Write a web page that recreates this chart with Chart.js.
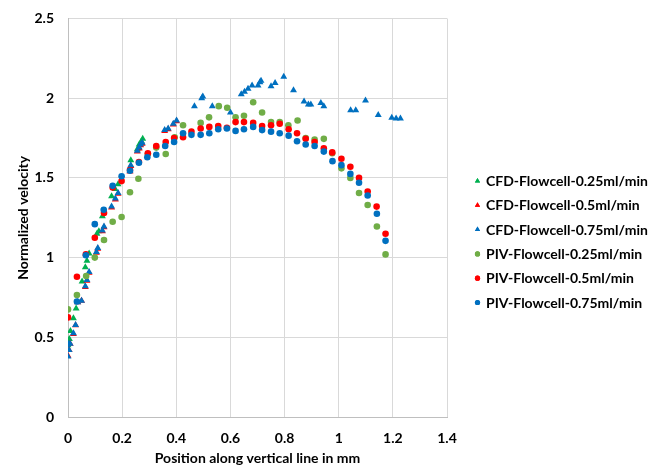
<!DOCTYPE html>
<html>
<head>
<meta charset="utf-8">
<script src="https://cdn.jsdelivr.net/npm/chart.js@4/dist/chart.umd.min.js"></script>
<style>
  body { margin: 0; background: #fff; }
  #chart { display: block; }
</style>
</head>
<body>
<canvas id="chart" width="663" height="467"></canvas>
<script>
// series as [position mm, normalized velocity]
const cfd025 = [
    [0, 0.45], [0.005, 0.49], [0.009, 0.54], [0.02, 0.62], [0.03, 0.68],
    [0.052, 0.85], [0.064, 0.94], [0.07, 0.98], [0.078, 1.025], [0.107, 1.15],
    [0.114, 1.165], [0.127, 1.26], [0.161, 1.385], [0.174, 1.43], [0.185, 1.46],
    [0.232, 1.61], [0.256, 1.68], [0.263, 1.71], [0.271, 1.73], [0.276, 1.745],
];
const cfd05 = [
    [0, 0.385], [0.004, 0.42], [0.008, 0.46], [0.02, 0.52], [0.028, 0.575],
    [0.036, 0.72], [0.05, 0.73], [0.064, 0.815], [0.07, 0.855], [0.078, 0.905],
    [0.105, 1.03], [0.11, 1.055], [0.127, 1.165], [0.133, 1.19], [0.161, 1.315],
    [0.175, 1.365], [0.185, 1.4], [0.229, 1.54], [0.232, 1.575], [0.256, 1.665],
    [0.263, 1.685], [0.268, 1.705], [0.274, 1.715], [0.357, 1.795], [0.37, 1.805],
    [0.389, 1.835], [0.401, 1.855],
];
const cfd075 = [
    [0, 0.38], [0.004, 0.42], [0.008, 0.46], [0.02, 0.525], [0.028, 0.577],
    [0.036, 0.72], [0.05, 0.73], [0.064, 0.82], [0.07, 0.86], [0.078, 0.91],
    [0.105, 1.035], [0.11, 1.06], [0.127, 1.17], [0.133, 1.195], [0.161, 1.32],
    [0.175, 1.37], [0.185, 1.405], [0.229, 1.545], [0.232, 1.58], [0.256, 1.67],
    [0.263, 1.69], [0.268, 1.71], [0.274, 1.72], [0.357, 1.80], [0.37, 1.81],
    [0.389, 1.84], [0.401, 1.86], [0.467, 1.95], [0.494, 2.0], [0.498, 2.01],
    [0.533, 1.95], [0.6, 1.91], [0.64, 2.025], [0.652, 2.04], [0.665, 2.06],
    [0.68, 2.08], [0.702, 2.08], [0.709, 2.10], [0.713, 2.11], [0.75, 2.075],
    [0.765, 2.095], [0.797, 2.135], [0.833, 2.05], [0.872, 1.98], [0.888, 1.96],
    [0.897, 1.96], [0.934, 1.97], [0.945, 1.95], [1.044, 1.925], [1.063, 1.925],
    [1.099, 1.985], [1.146, 1.895], [1.196, 1.878], [1.212, 1.872], [1.228, 1.872],
];
const piv025 = [
    [0, 0.675], [0.033, 0.765], [0.067, 0.885], [0.099, 1.0], [0.133, 1.11],
    [0.165, 1.225], [0.198, 1.255], [0.229, 1.41], [0.26, 1.495], [0.295, 1.65],
    [0.326, 1.69], [0.361, 1.65], [0.394, 1.755], [0.425, 1.83], [0.49, 1.845],
    [0.521, 1.88], [0.557, 1.95], [0.588, 1.94], [0.619, 1.88], [0.65, 1.89],
    [0.684, 1.975], [0.717, 1.91], [0.75, 1.85], [0.782, 1.85], [0.814, 1.83],
    [0.848, 1.86], [0.878, 1.75], [0.911, 1.74], [0.945, 1.745], [0.976, 1.655],
    [1.01, 1.56], [1.043, 1.50], [1.075, 1.405], [1.107, 1.33], [1.141, 1.195],
    [1.173, 1.02],
];
const piv05 = [
    [0, 0.625], [0.033, 0.88], [0.066, 1.02], [0.099, 1.125], [0.133, 1.28],
    [0.165, 1.44], [0.198, 1.48], [0.229, 1.55], [0.262, 1.60], [0.295, 1.655],
    [0.326, 1.70], [0.361, 1.725], [0.392, 1.75], [0.425, 1.755], [0.456, 1.79],
    [0.49, 1.81], [0.522, 1.82], [0.555, 1.825], [0.587, 1.815], [0.619, 1.85],
    [0.65, 1.85], [0.684, 1.845], [0.717, 1.825], [0.75, 1.83], [0.782, 1.84],
    [0.815, 1.805], [0.846, 1.78], [0.878, 1.745], [0.911, 1.725], [0.945, 1.685],
    [0.976, 1.66], [1.01, 1.62], [1.043, 1.57], [1.075, 1.50], [1.107, 1.415],
    [1.14, 1.32], [1.173, 1.15],
];
const piv075 = [
    [0, 0.46], [0.033, 0.725], [0.066, 1.015], [0.099, 1.21], [0.132, 1.30],
    [0.165, 1.45], [0.198, 1.51], [0.229, 1.545], [0.262, 1.595], [0.293, 1.63],
    [0.326, 1.645], [0.359, 1.70], [0.392, 1.725], [0.425, 1.78], [0.456, 1.77],
    [0.49, 1.77], [0.522, 1.78], [0.555, 1.805], [0.587, 1.81], [0.619, 1.795],
    [0.65, 1.805], [0.684, 1.82], [0.717, 1.80], [0.75, 1.79], [0.782, 1.78],
    [0.815, 1.765], [0.846, 1.73], [0.878, 1.71], [0.911, 1.70], [0.945, 1.665],
    [0.977, 1.605], [1.01, 1.58], [1.043, 1.525], [1.075, 1.47], [1.107, 1.39],
    [1.141, 1.275], [1.173, 1.105],
];

const seriesNames = [
    'CFD-Flowcell-0.25ml/min',
    'CFD-Flowcell-0.5ml/min',
    'CFD-Flowcell-0.75ml/min',
    'PIV-Flowcell-0.25ml/min',
    'PIV-Flowcell-0.5ml/min',
    'PIV-Flowcell-0.75ml/min',
];
const seriesData = [cfd025, cfd05, cfd075, piv025, piv05, piv075];
const seriesColors = ['#00B050', '#FF0000', '#0070C0', '#70AD47', '#FF0000', '#0070C0'];
const seriesShapes = ['triangle', 'triangle', 'triangle', 'circle', 'circle', 'circle'];

const FONT = 'Lato, Calibri, "Liberation Sans", sans-serif';
const GRID = '#d9d9d9';
const tickFont = { family: FONT, size: 14, weight: 'bold' };

// excel style labels: 0, 0.5, 1 ... (no trailing .0)
const fmt = (v) => String(Math.round(v * 10) / 10);

// legend drawn at fixed place on the right, like the excel one
const sideLegend = {
    id: 'sideLegend',
    afterDraw(chart) {
        const ctx = chart.ctx;
        ctx.save();
        ctx.font = `bold 14px ${FONT}`;
        ctx.textBaseline = 'middle';
        chart.data.datasets.forEach((ds, i) => {
            const y = 181 + i * 24.3;
            ctx.fillStyle = ds.backgroundColor;
            Chart.helpers.drawPoint(ctx, {
                pointStyle: ds.pointStyle,
                radius: ds.pointStyle === 'triangle' ? 3 : 2.6,
                rotation: 0,
                borderWidth: 0,
            }, 477.5, y);
            ctx.fill();
            ctx.fillStyle = '#000';
            ctx.fillText(ds.label, 486, y + 0.5);
        });
        ctx.restore();
    },
};

const datasets = seriesNames.map((name, i) => ({
    label: name,
    data: seriesData[i].map(p => ({ x: p[0], y: p[1] })),
    pointStyle: seriesShapes[i],
    pointRadius: seriesShapes[i] === 'triangle' ? 4 : 3.3,
    pointHoverRadius: 4,
    backgroundColor: seriesColors[i],
    borderColor: seriesColors[i],
    borderWidth: 0,
    showLine: false,
    order: 6 - i, // later series on top
}));

new Chart(document.getElementById('chart'), {
    type: 'scatter',
    data: { datasets },
    options: {
        responsive: false,
        animation: false,
        layout: { padding: { left: 15, right: 216, top: 18.5, bottom: 0 } },
        plugins: { legend: { display: false }, tooltip: { enabled: false } },
        scales: {
            x: {
                type: 'linear',
                min: 0,
                max: 1.4,
                ticks: {
                    stepSize: 0.2,
                    padding: 13,
                    color: '#000',
                    font: tickFont,
                    callback: fmt,
                },
                grid: { color: GRID, drawTicks: false },
                border: { color: '#bfbfbf' },
                title: {
                    display: true,
                    text: 'Position along vertical line in mm',
                    color: '#000',
                    font: tickFont,
                    padding: { top: 4, bottom: 0 },
                },
                afterFit: (s) => { s.height = 50; },
            },
            y: {
                min: 0,
                max: 2.5,
                ticks: {
                    stepSize: 0.5,
                    padding: 14,
                    color: '#000',
                    font: tickFont,
                    callback: fmt,
                },
                grid: { color: GRID, drawTicks: false },
                border: { color: '#bfbfbf' },
                title: {
                    display: true,
                    text: 'Normalized velocity',
                    color: '#000',
                    font: tickFont,
                    padding: { top: 0, bottom: 0 },
                },
                afterFit: (s) => {
                    s.width = 53;
                    s.paddingTop = 0;
                    s.paddingBottom = 0;
                },
            },
        },
    },
    plugins: [sideLegend],
});
</script>
</body>
</html>
